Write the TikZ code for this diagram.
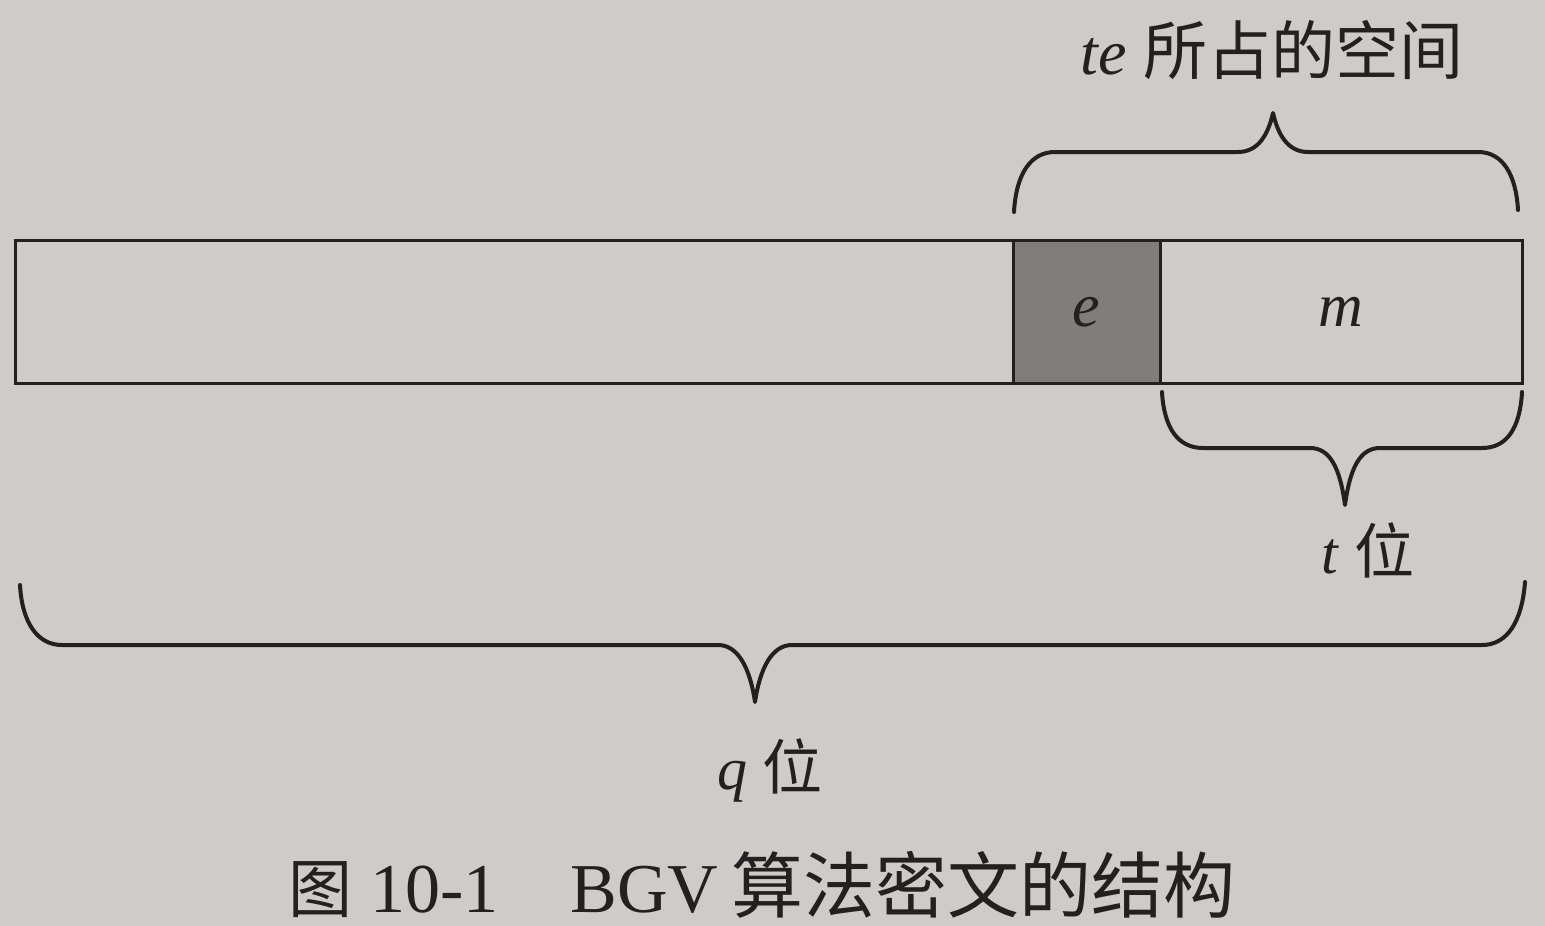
\documentclass[tikz,border=0pt]{standalone}
\usepackage{fontspec}
\setmainfont{Liberation Serif}
\newfontfamily\cjk{Noto Sans CJK SC}
\definecolor{bgc}{RGB}{206,204,200}
\definecolor{ecol}{RGB}{128,126,122}
\definecolor{ink}{RGB}{35,33,32}
\tikzset{
  cell/.style={draw=ink, line width=3pt, inner sep=0pt, minimum height=143pt, text=ink,
    font=\fontsize{62}{70}\selectfont\itshape},
  bracepath/.style={draw=ink, line width=4pt, line cap=round, line join=round},
  lab/.style={text=ink, inner sep=0pt, font=\fontsize{60}{70}\selectfont},
}
\begin{document}
\begin{tikzpicture}[x=1pt,y=-1pt]
\fill[bgc] (0,0) rectangle (1545,926);
\useasboundingbox (0,0) rectangle (1545,926);
% bar
\node[cell, minimum width=998pt] (bar) at (514,312) {};
\node[cell, fill=ecol, minimum width=147pt] (e) at (1086.5,312) {e};
\node[cell, minimum width=362pt] (m) at (1341,312) {m};
% top brace
\draw[bracepath] (1014,212) .. controls (1016,175) and (1030,152) .. (1055,152)
  -- (1238,152) .. controls (1258,152) and (1268,135) .. (1273,113)
  .. controls (1278,135) and (1288,152) .. (1308,152)
  -- (1478,152) .. controls (1503,152) and (1516,175) .. (1518,210);
% m brace
\draw[bracepath] (1162,392) .. controls (1164,428) and (1178,448) .. (1203,448)
  -- (1310,448) .. controls (1330,448) and (1340,468) .. (1345,505)
  .. controls (1350,468) and (1360,448) .. (1380,448)
  -- (1482,448) .. controls (1507,448) and (1520,428) .. (1522,392);
% big brace
\draw[bracepath] (20,585) .. controls (22,622) and (37,645) .. (62,645)
  -- (718,645) .. controls (738,645) and (750,668) .. (755,702)
  .. controls (760,668) and (772,645) .. (792,645)
  -- (1482,645) .. controls (1507,645) and (1522,622) .. (1525,582);
% labels
\node[lab, font=\fontsize{64}{72}\selectfont] (telab) at (1272,50) {\textit{te} {\cjk 所占的空间}};
\node[lab] (tlab) at (1368,550) {\textit{t} {\cjk 位}};
\node[lab] (qlab) at (770,770) {\textit{q} {\cjk 位}};
\node[lab, anchor=west, font=\fontsize{70}{78}\selectfont] (cap) at (288,885)
  {{\cjk\fontsize{64}{72}\selectfont 图}\hspace{18pt}10-1\hspace{72pt}BGV\hspace{13pt}{\cjk\fontsize{72}{78}\selectfont 算法密文的结构}};
\end{tikzpicture}
\end{document}
